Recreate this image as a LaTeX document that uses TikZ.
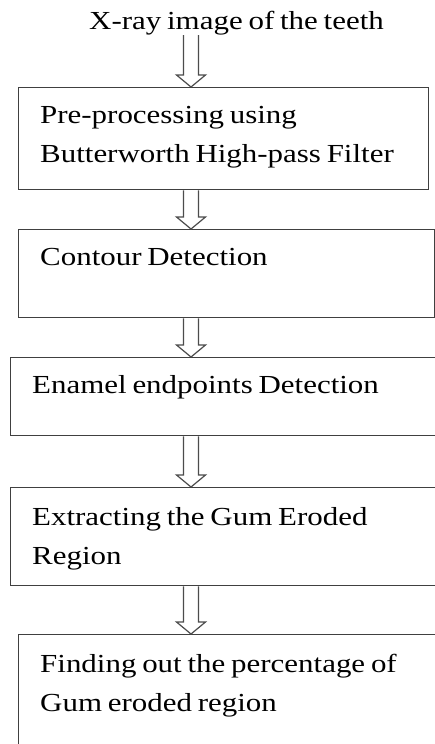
\documentclass[tikz,border=0pt]{standalone}
\usepackage{fontspec}
\setmainfont{Liberation Serif}[FakeStretch=1.19, WordSpace=0.75]
\usetikzlibrary{calc}
\newcommand\hollowarrow[2]{%
  \draw[arrowline] let \p1=#1, \p2=#2 in
    (\x1-7.5pt,\y1) -- (\x1-7.5pt,\y2+12pt) -- (\x1-14.5pt,\y2+12pt) -- (\x2,\y2)
    -- (\x1+14.5pt,\y2+12pt) -- (\x1+7.5pt,\y2+12pt) -- (\x1+7.5pt,\y1);}
\begin{document}
\begin{tikzpicture}[x=1pt,y=-1pt,
  box/.style={draw=black!75, line width=1.4pt, fill=white, inner sep=0pt, anchor=north west},
  txt/.style={inner sep=0pt, anchor=base west, align=left, text=black, font=\fontsize{26pt}{39pt}\selectfont},
  arrowline/.style={draw=black!70, line width=1.2pt, fill=white, line join=miter}]
\clip (0,0) rectangle (435,744);
\fill[white] (0,0) rectangle (435,744);
\coordinate (ax) at (191,0);
% title
\node[txt] (title) at (89,29) {X-ray image of the teeth};
% boxes
\node[box, minimum width=410pt, minimum height=102pt] (b1) at (18,87) {};
\node[box, minimum width=416pt, minimum height=88pt] (b2) at (18,229) {};
\node[box, minimum width=440pt, minimum height=78pt] (b3) at (10,357) {};
\node[box, minimum width=440pt, minimum height=98pt] (b4) at (10,487) {};
\node[box, minimum width=440pt, minimum height=130pt] (b5) at (18,634) {};
% texts (multi-line nodes are anchored at the baseline of their last line)
\node[txt] (t1) at (40,162) {Pre-processing using\\Butterworth High-pass Filter};
\node[txt] (t2) at (40,265) {Contour Detection};
\node[txt] (t3) at (32,393) {Enamel endpoints Detection};
\node[txt] (t4) at (32,564) {Extracting the Gum Eroded\\Region};
\node[txt] (t5) at (40,711) {Finding out the percentage of\\Gum eroded region};
% arrows
\coordinate (a0) at (191,35);
\hollowarrow{(a0)}{(b1.north -| ax)}
\hollowarrow{(b1.south -| ax)}{(b2.north -| ax)}
\hollowarrow{(b2.south -| ax)}{(b3.north -| ax)}
\hollowarrow{(b3.south -| ax)}{(b4.north -| ax)}
\hollowarrow{(b4.south -| ax)}{(b5.north -| ax)}
\end{tikzpicture}
\end{document}
